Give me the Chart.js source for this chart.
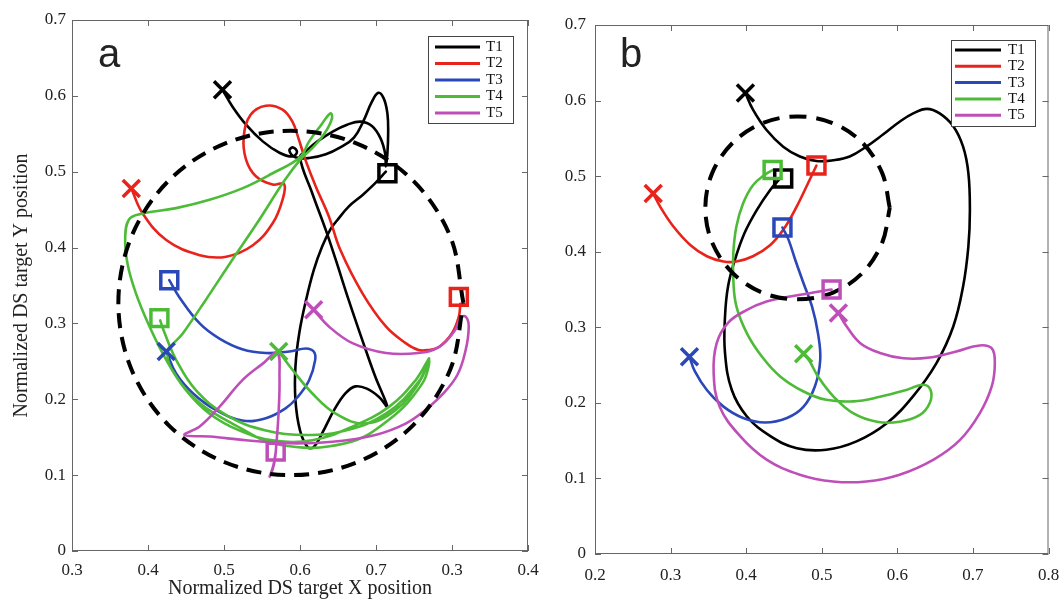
<!DOCTYPE html>
<html lang="en">
<head>
<meta charset="UTF-8" />
<title>DS target trajectories</title>
<script src="https://cdn.jsdelivr.net/npm/chart.js"></script>
<style>
  body { margin: 0; background: #fff; }
  #wrap { position: relative; width: 1064px; height: 600px; overflow: hidden; }
  #chartA { position: absolute; left: 0; top: 0; }
  #chartB { position: absolute; left: 540px; top: 0; }
</style>
</head>
<body>
<div id="wrap">
  <canvas id="chartA" width="552" height="600"></canvas>
  <canvas id="chartB" width="524" height="600"></canvas>
</div>

<script>
  // series names and colours
  const names = ['T1', 'T2', 'T3', 'T4', 'T5'];
  const colors = ['#000000', '#e8231c', '#2b48b8', '#4dbb38', '#bf4fb8'];

  // ---- panel a ----
  const aXTicks = [0.3, 0.4, 0.5, 0.6, 0.7, 0.8, 0.9];
  const aXLabels = ['0.3', '0.4', '0.5', '0.6', '0.7', '0.3', '0.4'];
  const yTicks = [0, 0.1, 0.2, 0.3, 0.4, 0.5, 0.6, 0.7];
  const yLabels = ['0', '0.1', '0.2', '0.3', '0.4', '0.5', '0.6', '0.7'];

  const aStarts = [[0.498,0.608],[0.378,0.478],[0.424,0.263],[0.572,0.263],[0.618,0.318]];
  const aEnds = [[0.715,0.498],[0.809,0.335],[0.428,0.357],[0.415,0.307],[0.568,0.131]];

  const aCircle = [[0.815,0.327],[0.798,0.414],[0.749,0.488],[0.675,0.537],[0.588,0.554],[0.501,0.537],
    [0.427,0.488],[0.378,0.414],[0.361,0.327],[0.378,0.240],[0.427,0.166],[0.501,0.117],[0.588,0.100],
    [0.675,0.117],[0.749,0.166],[0.798,0.240],[0.815,0.327]];

  const aT1 = [[0.498,0.608],[0.511,0.586],[0.529,0.562],[0.551,0.540],[0.573,0.525],[0.590,0.520],
    [0.596,0.526],[0.591,0.532],[0.586,0.528],[0.594,0.519],
    [0.612,0.518],[0.634,0.523],[0.653,0.532],[0.671,0.545],
    [0.684,0.568],[0.694,0.591],[0.703,0.604],[0.710,0.597],[0.715,0.577],[0.716,0.551],[0.715,0.524],[0.713,0.507],
    [0.712,0.524],[0.706,0.544],[0.695,0.560],[0.680,0.566],[0.662,0.562],[0.643,0.553],[0.623,0.540],[0.608,0.527],[0.600,0.519],
    [0.616,0.472],[0.634,0.423],[0.647,0.384],[0.664,0.331],[0.682,0.278],[0.699,0.230],[0.715,0.190],
    [0.704,0.203],[0.688,0.214],[0.673,0.217],[0.660,0.208],[0.645,0.186],[0.629,0.155],[0.618,0.137],[0.610,0.137],
    [0.600,0.159],[0.594,0.199],[0.594,0.243],[0.599,0.287],[0.608,0.331],[0.618,0.370],[0.629,0.401],[0.640,0.424],
    [0.649,0.436],[0.664,0.454],[0.682,0.469],[0.699,0.485],[0.713,0.500]];

  const aT2 = [[0.378,0.478],[0.393,0.445],[0.424,0.410],[0.468,0.390],[0.503,0.388],[0.538,0.403],[0.564,0.432],
    [0.577,0.463],[0.579,0.484],[0.564,0.483],[0.542,0.494],[0.529,0.516],[0.526,0.546],[0.535,0.575],[0.555,0.587],
    [0.577,0.582],[0.590,0.566],[0.598,0.544],[0.607,0.516],[0.621,0.480],[0.638,0.441],[0.653,0.397],[0.682,0.340],
    [0.713,0.296],[0.739,0.274],[0.756,0.265],[0.769,0.265],[0.783,0.269],[0.800,0.287],[0.809,0.309],[0.811,0.326]];

  const aT3 = [[0.428,0.357],[0.441,0.335],[0.468,0.300],[0.494,0.280],[0.524,0.266],[0.555,0.261],[0.586,0.263],
    [0.608,0.267],[0.618,0.263],[0.620,0.252],[0.612,0.225],[0.597,0.203],[0.581,0.188],[0.555,0.175],[0.524,0.172],
    [0.489,0.186],[0.459,0.208],[0.437,0.234],[0.424,0.263]];

  const aT4 = [[0.572,0.263],[0.590,0.239],[0.616,0.208],[0.647,0.181],[0.686,0.168],[0.726,0.186],[0.756,0.221],[0.770,0.254],
    [0.752,0.225],[0.717,0.190],[0.669,0.164],[0.616,0.146],[0.564,0.146],[0.520,0.159],[0.481,0.181],[0.450,0.212],
    [0.424,0.252],[0.402,0.296],[0.384,0.340],[0.373,0.379],[0.370,0.414],[0.375,0.437],[0.389,0.444],
    [0.437,0.452],[0.481,0.463],[0.524,0.478],[0.564,0.498],[0.600,0.519],
    [0.612,0.540],[0.628,0.562],[0.640,0.577],[0.642,0.570],[0.632,0.550],[0.615,0.530],[0.602,0.518],
    [0.580,0.489],[0.546,0.436],[0.511,0.384],[0.476,0.331],[0.446,0.287],[0.426,0.261],
    [0.437,0.230],[0.468,0.195],[0.511,0.168],[0.573,0.140],[0.660,0.142],[0.717,0.173],[0.761,0.221],[0.770,0.252],
    [0.756,0.223],[0.713,0.181],[0.660,0.159],[0.608,0.153],[0.555,0.159],[0.503,0.179],[0.463,0.212],[0.437,0.252],
    [0.422,0.287],[0.416,0.304]];

  const aT5 = [[0.618,0.318],[0.638,0.296],[0.669,0.274],[0.713,0.261],[0.756,0.261],[0.783,0.269],[0.804,0.291],
    [0.811,0.307],[0.818,0.309],[0.822,0.296],[0.818,0.265],[0.807,0.232],[0.787,0.206],[0.765,0.186],[0.739,0.168],
    [0.699,0.153],[0.643,0.144],[0.586,0.142],[0.529,0.146],[0.481,0.151],[0.448,0.153],[0.468,0.164],[0.494,0.190],
    [0.524,0.225],[0.551,0.247],[0.570,0.261],[0.573,0.230],[0.572,0.186],[0.569,0.142],[0.566,0.115],[0.560,0.098],
    [0.565,0.113],[0.568,0.130]];

  // ---- panel b ----
  const bXTicks = [0.2, 0.3, 0.4, 0.5, 0.6, 0.7, 0.8];
  const bXLabels = ['0.2', '0.3', '0.4', '0.5', '0.6', '0.7', '0.8'];

  const bStarts = [[0.399,0.610],[0.277,0.477],[0.325,0.261],[0.476,0.265],[0.522,0.319]];
  const bEnds = [[0.449,0.497],[0.493,0.514],[0.448,0.432],[0.435,0.508],[0.513,0.350]];

  const bCircle = [[0.590,0.458],[0.580,0.504],[0.554,0.544],[0.515,0.570],[0.468,0.579],[0.421,0.570],
    [0.382,0.544],[0.355,0.504],[0.346,0.458],[0.355,0.412],[0.382,0.372],[0.421,0.346],[0.468,0.337],
    [0.515,0.346],[0.554,0.372],[0.580,0.412],[0.590,0.458]];

  const bT1 = [[0.399,0.610],[0.409,0.588],[0.427,0.561],[0.449,0.539],[0.471,0.526],[0.493,0.520],[0.515,0.521],
    [0.537,0.526],[0.559,0.539],[0.581,0.555],[0.603,0.572],[0.621,0.583],[0.639,0.589],[0.656,0.583],[0.674,0.566],
    [0.687,0.539],[0.694,0.504],[0.696,0.455],[0.694,0.407],[0.687,0.354],[0.674,0.301],[0.652,0.253],[0.621,0.209],
    [0.586,0.173],[0.546,0.149],[0.506,0.138],[0.467,0.140],[0.432,0.156],[0.401,0.182],[0.381,0.217],[0.372,0.266],
    [0.372,0.314],[0.376,0.354],[0.385,0.389],[0.398,0.425],[0.414,0.455],[0.432,0.482],[0.445,0.497]];

  const bT2 = [[0.277,0.477],[0.286,0.460],[0.304,0.433],[0.326,0.409],[0.348,0.394],[0.370,0.387],[0.387,0.387],
    [0.409,0.394],[0.432,0.409],[0.449,0.429],[0.467,0.460],[0.482,0.491],[0.493,0.514]];

  const bT3 = [[0.325,0.261],[0.332,0.242],[0.348,0.217],[0.370,0.195],[0.396,0.180],[0.425,0.174],[0.454,0.180],
    [0.476,0.195],[0.491,0.222],[0.498,0.257],[0.495,0.292],[0.487,0.328],[0.476,0.358],[0.465,0.389],[0.456,0.416],
    [0.448,0.432]];

  const bT4 = [[0.476,0.265],[0.484,0.255],[0.495,0.235],[0.515,0.209],[0.542,0.186],[0.573,0.175],[0.603,0.175],
    [0.630,0.184],[0.643,0.200],[0.644,0.217],[0.634,0.224],[0.612,0.217],[0.577,0.208],[0.542,0.202],[0.506,0.204],
    [0.476,0.215],[0.445,0.235],[0.421,0.261],[0.401,0.292],[0.387,0.328],[0.383,0.363],[0.383,0.398],[0.387,0.433],
    [0.396,0.464],[0.409,0.488],[0.425,0.502],[0.435,0.508]];

  const bT5 = [[0.522,0.319],[0.533,0.301],[0.551,0.279],[0.577,0.266],[0.608,0.259],[0.643,0.260],[0.678,0.268],
    [0.709,0.276],[0.725,0.272],[0.729,0.253],[0.725,0.222],[0.709,0.186],[0.683,0.151],[0.648,0.125],[0.603,0.105],
    [0.559,0.096],[0.515,0.096],[0.471,0.105],[0.427,0.125],[0.392,0.156],[0.365,0.195],[0.357,0.239],[0.361,0.279],
    [0.376,0.306],[0.401,0.323],[0.427,0.334],[0.454,0.340],[0.484,0.345],[0.506,0.349],[0.513,0.350]];

  const serif = 'Liberation Serif';

  function pts(arr) {
    return arr.map(p => ({ x: p[0], y: p[1] }));
  }

  // box, inward ticks, panel letter and legend
  const panelDecor = {
    id: 'panelDecor',
    afterDraw(chart, args, o) {
      const ctx = chart.ctx;
      const a = chart.chartArea;
      const xs = chart.scales.x, ys = chart.scales.y;
      ctx.save();
      ctx.strokeStyle = '#666';
      ctx.lineWidth = 1;
      ctx.strokeRect(a.left + 0.5, a.top + 0.5, a.right - a.left - 1, a.bottom - a.top - 1);
      ctx.beginPath();
      xs.ticks.forEach(t => {
        const px = Math.round(xs.getPixelForValue(t.value)) + 0.5;
        ctx.moveTo(px, a.bottom); ctx.lineTo(px, a.bottom - 6);
        ctx.moveTo(px, a.top); ctx.lineTo(px, a.top + 6);
      });
      ys.ticks.forEach(t => {
        const py = Math.round(ys.getPixelForValue(t.value)) + 0.5;
        ctx.moveTo(a.left, py); ctx.lineTo(a.left + 6, py);
        ctx.moveTo(a.right, py); ctx.lineTo(a.right - 6, py);
      });
      ctx.stroke();

      // panel letter
      ctx.fillStyle = '#222';
      ctx.font = '40px "Liberation Sans"';
      ctx.textBaseline = 'alphabetic';
      ctx.fillText(o.letter, o.letterX, o.letterY);

      // legend
      const L = o.legend;
      ctx.fillStyle = '#fff';
      ctx.fillRect(L.x, L.y, L.w, L.h);
      ctx.strokeStyle = '#444';
      ctx.strokeRect(L.x + 0.5, L.y + 0.5, L.w, L.h);
      ctx.font = '15px "' + serif + '"';
      ctx.textBaseline = 'middle';
      names.forEach((n, i) => {
        const y = L.row0 + i * L.step;
        ctx.strokeStyle = colors[i];
        ctx.lineWidth = 3;
        ctx.beginPath();
        ctx.moveTo(L.lineX0, y); ctx.lineTo(L.lineX1, y);
        ctx.stroke();
        ctx.fillStyle = '#111';
        ctx.fillText(n, L.textX, y);
      });
      ctx.restore();
    }
  };

  function makePanel(id, p) {
    const datasets = [
      { label: 'start', data: pts(p.starts), showLine: false, pointStyle: 'crossRot', pointRadius: 12,
        pointBorderWidth: 3.5, pointBorderColor: colors, pointBackgroundColor: 'rgba(0,0,0,0)' },
      { label: 'end', data: pts(p.ends), showLine: false, pointStyle: 'rect', pointRadius: 12,
        pointBorderWidth: 3.5, pointBorderColor: colors, pointBackgroundColor: 'rgba(0,0,0,0)' },
      { label: 'circle', data: pts(p.circle), showLine: true, borderColor: '#000', borderWidth: 4,
        borderDash: p.dash, tension: 0.34, pointRadius: 0 }
    ];
    for (let i = p.series.length - 1; i >= 0; i--) {
      datasets.push({
        label: names[i], data: pts(p.series[i]), showLine: true, borderColor: colors[i],
        borderWidth: 2.6, tension: 0.4, pointRadius: 0, borderJoinStyle: 'round', borderCapStyle: 'round'
      });
    }
    const tickFont = { family: serif, size: 17 };
    return new Chart(document.getElementById(id), {
      type: 'scatter',
      data: { datasets },
      plugins: [panelDecor],
      options: {
        responsive: false,
        animation: false,
        events: [],
        layout: { padding: p.pad },
        plugins: {
          legend: { display: false },
          tooltip: { enabled: false },
          panelDecor: p.decor
        },
        scales: {
          x: {
            type: 'linear', min: p.xTicks[0], max: p.xTicks[p.xTicks.length - 1],
            afterBuildTicks: s => { s.ticks = p.xTicks.map(v => ({ value: v })); },
            afterFit: s => { s.height = p.xAxisH; s.paddingLeft = 0; s.paddingRight = 0; },
            grid: { display: false, drawTicks: false },
            border: { display: false },
            ticks: { callback: (v, i) => p.xLabels[i], autoSkip: false, maxRotation: 0,
                     padding: p.xPad, font: tickFont, color: '#222' },
            title: p.xTitle
              ? { display: true, text: p.xTitle, font: { family: serif, size: 20 }, color: '#222', padding: { top: 0, bottom: -1 } }
              : { display: false }
          },
          y: {
            type: 'linear', min: 0, max: 0.7,
            afterBuildTicks: s => { s.ticks = yTicks.map(v => ({ value: v })); },
            afterFit: s => { s.width = p.yAxisW; s.paddingTop = 0; s.paddingBottom = 0; },
            grid: { display: false, drawTicks: false },
            border: { display: false },
            ticks: { callback: (v, i) => yLabels[i], autoSkip: false, padding: p.yPad, font: tickFont, color: '#222' },
            title: p.yTitle
              ? { display: true, text: p.yTitle, font: { family: serif, size: 20 }, color: '#222', padding: { top: 10, bottom: 0 } }
              : { display: false }
          }
        }
      }
    });
  }

  makePanel('chartA', {
    xTicks: aXTicks, xLabels: aXLabels,
    starts: aStarts, ends: aEnds, circle: aCircle, dash: [15, 9],
    series: [aT1, aT2, aT3, aT4, aT5],
    pad: { top: 20, right: 24, left: 0, bottom: 0 },
    yAxisW: 72, xAxisH: 49, xPad: 9, yPad: 6,
    xTitle: 'Normalized DS target X position',
    yTitle: 'Normalized DS target Y position',
    decor: {
      letter: 'a', letterX: 98, letterY: 67,
      legend: { x: 428, y: 36, w: 85, h: 87, row0: 47, step: 16.5, lineX0: 435, lineX1: 480, textX: 486 }
    }
  });

  makePanel('chartB', {
    xTicks: bXTicks, xLabels: bXLabels,
    starts: bStarts, ends: bEnds, circle: bCircle, dash: [17, 10],
    series: [bT1, bT2, bT3, bT4, bT5],
    pad: { top: 25, right: 15, left: 0, bottom: 0 },
    yAxisW: 55, xAxisH: 46, xPad: 11, yPad: 9,
    xTitle: null, yTitle: null,
    decor: {
      letter: 'b', letterX: 80, letterY: 67,
      legend: { x: 411, y: 40, w: 84, h: 86, row0: 50, step: 16.3, lineX0: 415, lineX1: 461, textX: 468 }
    }
  });
</script>
</body>
</html>
